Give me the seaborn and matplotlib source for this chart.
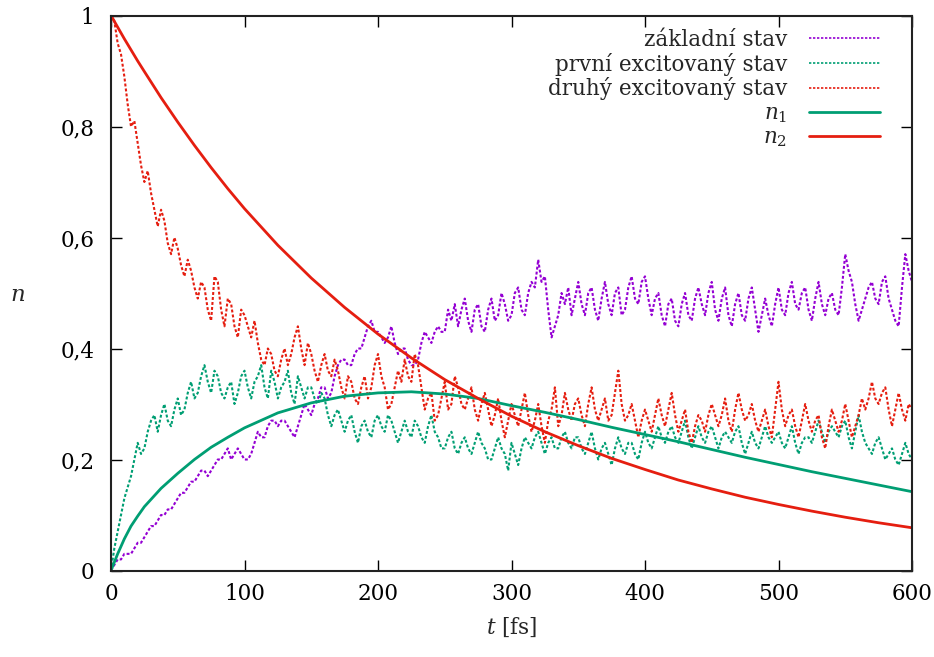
import numpy as np
import pandas as pd
import matplotlib
matplotlib.use("Agg")
import matplotlib.pyplot as plt
from matplotlib.lines import Line2D
import seaborn as sns

# ---------------- data ----------------
dt = 2.5  # fs between samples of the noisy series

zakladni = [
    0.00, 0.01, 0.02, 0.02, 0.03, 0.03, 0.03, 0.04, 0.05, 0.05,
    0.06, 0.07, 0.08, 0.08, 0.09, 0.10, 0.10, 0.11, 0.11, 0.12,
    0.13, 0.14, 0.14, 0.15, 0.16, 0.16, 0.17, 0.18, 0.18, 0.17,
    0.18, 0.19, 0.20, 0.20, 0.21, 0.22, 0.20, 0.21, 0.22, 0.21,
    0.20, 0.20, 0.21, 0.23, 0.25, 0.24, 0.24, 0.26, 0.27, 0.27,
    0.26, 0.27, 0.27, 0.26, 0.25, 0.24, 0.26, 0.28, 0.30, 0.29,
    0.28, 0.30, 0.31, 0.33, 0.33, 0.31, 0.32, 0.35, 0.37, 0.38,
    0.38, 0.37, 0.37, 0.39, 0.40, 0.40, 0.42, 0.44, 0.45, 0.43,
    0.43, 0.42, 0.41, 0.42, 0.44, 0.41, 0.39, 0.40, 0.40, 0.38,
    0.37, 0.37, 0.38, 0.41, 0.43, 0.42, 0.41, 0.43, 0.44, 0.43,
    0.43, 0.47, 0.45, 0.48, 0.44, 0.47, 0.49, 0.45, 0.43, 0.47,
    0.48, 0.44, 0.43, 0.47, 0.49, 0.45, 0.46, 0.50, 0.48, 0.45,
    0.46, 0.50, 0.51, 0.47, 0.46, 0.50, 0.52, 0.51, 0.56, 0.52,
    0.53, 0.47, 0.42, 0.44, 0.46, 0.50, 0.48, 0.51, 0.46, 0.49,
    0.52, 0.48, 0.46, 0.50, 0.51, 0.47, 0.45, 0.49, 0.52, 0.48,
    0.46, 0.50, 0.51, 0.46, 0.47, 0.51, 0.53, 0.49, 0.48, 0.52,
    0.53, 0.49, 0.46, 0.49, 0.50, 0.46, 0.44, 0.48, 0.49, 0.45,
    0.44, 0.48, 0.50, 0.46, 0.45, 0.49, 0.51, 0.48, 0.46, 0.50,
    0.52, 0.47, 0.45, 0.49, 0.51, 0.46, 0.44, 0.48, 0.50, 0.46,
    0.45, 0.49, 0.51, 0.47, 0.43, 0.46, 0.49, 0.46, 0.44, 0.48,
    0.51, 0.47, 0.46, 0.50, 0.52, 0.48, 0.47, 0.50, 0.51, 0.47,
    0.45, 0.49, 0.52, 0.48, 0.46, 0.49, 0.50, 0.47, 0.46, 0.51,
    0.57, 0.54, 0.52, 0.48, 0.45, 0.47, 0.49, 0.51, 0.52, 0.49,
    0.48, 0.52, 0.53, 0.49, 0.47, 0.45, 0.44, 0.51, 0.57, 0.54,
    0.52]

prvni = [
    0.00, 0.04, 0.07, 0.10, 0.13, 0.15, 0.17, 0.20, 0.23, 0.21,
    0.22, 0.25, 0.27, 0.28, 0.25, 0.28, 0.30, 0.27, 0.26, 0.29,
    0.31, 0.28, 0.29, 0.32, 0.34, 0.31, 0.32, 0.35, 0.37, 0.34,
    0.32, 0.36, 0.35, 0.32, 0.31, 0.33, 0.34, 0.30, 0.32, 0.35,
    0.36, 0.33, 0.31, 0.34, 0.35, 0.37, 0.33, 0.31, 0.36, 0.34,
    0.31, 0.33, 0.34, 0.36, 0.32, 0.30, 0.35, 0.33, 0.31, 0.33,
    0.33, 0.31, 0.30, 0.32, 0.31, 0.28, 0.26, 0.28, 0.29, 0.27,
    0.25, 0.27, 0.28, 0.25, 0.23, 0.26, 0.27, 0.25, 0.24, 0.27,
    0.28, 0.26, 0.25, 0.28, 0.27, 0.25, 0.23, 0.25, 0.27, 0.25,
    0.24, 0.27, 0.26, 0.24, 0.23, 0.26, 0.28, 0.25, 0.24, 0.22,
    0.22, 0.24, 0.25, 0.22, 0.21, 0.23, 0.24, 0.22, 0.21, 0.23,
    0.25, 0.23, 0.22, 0.20, 0.20, 0.22, 0.24, 0.22, 0.21, 0.18,
    0.23, 0.21, 0.19, 0.22, 0.24, 0.23, 0.22, 0.24, 0.25, 0.23,
    0.21, 0.23, 0.24, 0.22, 0.22, 0.24, 0.25, 0.23, 0.22, 0.24,
    0.24, 0.22, 0.21, 0.23, 0.25, 0.22, 0.20, 0.22, 0.23, 0.21,
    0.19, 0.22, 0.24, 0.22, 0.21, 0.23, 0.23, 0.21, 0.20, 0.23,
    0.25, 0.23, 0.22, 0.24, 0.26, 0.24, 0.23, 0.25, 0.26, 0.24,
    0.23, 0.25, 0.27, 0.24, 0.22, 0.24, 0.26, 0.24, 0.23, 0.25,
    0.26, 0.24, 0.22, 0.24, 0.25, 0.24, 0.23, 0.25, 0.26, 0.23,
    0.21, 0.23, 0.25, 0.23, 0.22, 0.24, 0.26, 0.24, 0.23, 0.24,
    0.25, 0.23, 0.22, 0.24, 0.26, 0.23, 0.21, 0.23, 0.24, 0.24,
    0.23, 0.25, 0.27, 0.25, 0.23, 0.25, 0.26, 0.25, 0.24, 0.26,
    0.27, 0.24, 0.22, 0.25, 0.28, 0.25, 0.23, 0.22, 0.21, 0.23,
    0.24, 0.22, 0.20, 0.21, 0.22, 0.20, 0.19, 0.21, 0.23, 0.21,
    0.20]

druhy = [
    1.00, 0.99, 0.95, 0.93, 0.89, 0.84, 0.80, 0.81, 0.77, 0.73,
    0.70, 0.72, 0.68, 0.65, 0.62, 0.65, 0.63, 0.59, 0.57, 0.60,
    0.58, 0.55, 0.53, 0.56, 0.54, 0.51, 0.49, 0.52, 0.51, 0.47,
    0.45, 0.53, 0.52, 0.47, 0.44, 0.49, 0.48, 0.44, 0.42, 0.47,
    0.46, 0.44, 0.42, 0.45, 0.41, 0.38, 0.37, 0.40, 0.39, 0.36,
    0.35, 0.38, 0.40, 0.37, 0.39, 0.42, 0.44, 0.40, 0.37, 0.41,
    0.39, 0.36, 0.34, 0.37, 0.39, 0.36, 0.35, 0.38, 0.36, 0.33,
    0.31, 0.35, 0.34, 0.31, 0.30, 0.33, 0.35, 0.31, 0.33, 0.37,
    0.39, 0.35, 0.33, 0.29, 0.30, 0.33, 0.36, 0.34, 0.38, 0.35,
    0.34, 0.39, 0.37, 0.33, 0.29, 0.31, 0.32, 0.27, 0.28, 0.31,
    0.34, 0.29, 0.30, 0.35, 0.33, 0.30, 0.29, 0.31, 0.33, 0.29,
    0.27, 0.30, 0.32, 0.29, 0.26, 0.28, 0.31, 0.27, 0.24, 0.27,
    0.30, 0.28, 0.26, 0.29, 0.32, 0.28, 0.25, 0.27, 0.30, 0.26,
    0.23, 0.27, 0.29, 0.33, 0.26, 0.28, 0.32, 0.29, 0.27, 0.30,
    0.31, 0.28, 0.26, 0.30, 0.33, 0.29, 0.27, 0.29, 0.31, 0.27,
    0.28, 0.32, 0.36, 0.30, 0.27, 0.28, 0.30, 0.27, 0.24, 0.27,
    0.29, 0.27, 0.25, 0.28, 0.31, 0.28, 0.26, 0.29, 0.32, 0.28,
    0.25, 0.27, 0.29, 0.25, 0.23, 0.26, 0.28, 0.27, 0.25, 0.28,
    0.30, 0.28, 0.26, 0.28, 0.31, 0.27, 0.25, 0.29, 0.32, 0.29,
    0.27, 0.28, 0.30, 0.27, 0.25, 0.27, 0.29, 0.26, 0.24, 0.29,
    0.34, 0.29, 0.26, 0.28, 0.29, 0.26, 0.24, 0.27, 0.30, 0.27,
    0.25, 0.27, 0.28, 0.24, 0.22, 0.26, 0.29, 0.27, 0.25, 0.27,
    0.30, 0.27, 0.24, 0.26, 0.28, 0.31, 0.29, 0.31, 0.34, 0.31,
    0.30, 0.32, 0.33, 0.29, 0.26, 0.29, 0.32, 0.29, 0.27, 0.30,
    0.29]

t_smooth = [0, 5, 10, 15, 20, 25, 37.5, 50, 62.5, 75, 87.5, 100, 125, 150,
            175, 200, 225, 250, 275, 300, 325, 350, 375, 400, 425, 450,
            475, 500, 525, 550, 575, 600]
n1 = [0.0, 0.030, 0.057, 0.080, 0.098, 0.115, 0.148, 0.175, 0.200, 0.222,
      0.240, 0.257, 0.284, 0.302, 0.314, 0.320, 0.322, 0.318, 0.310, 0.297,
      0.285, 0.272, 0.258, 0.245, 0.232, 0.218, 0.204, 0.191, 0.178, 0.166,
      0.154, 0.142]
n2 = [1.0, 0.979, 0.958, 0.938, 0.918, 0.899, 0.852, 0.808, 0.766, 0.726,
      0.688, 0.652, 0.586, 0.527, 0.474, 0.426, 0.383, 0.344, 0.310, 0.278,
      0.250, 0.225, 0.202, 0.182, 0.163, 0.147, 0.132, 0.119, 0.107, 0.096,
      0.086, 0.077]

x_ticks = [0, 100, 200, 300, 400, 500, 600]
y_ticks = [0, 0.2, 0.4, 0.6, 0.8, 1.0]
y_ticklabels = ["0", "0,2", "0,4", "0,6", "0,8", "1"]

labels = ["základní stav", "první excitovaný stav", "druhý excitovaný stav",
          r"$n_1$", r"$n_2$"]
colors = ["#9400d3", "#009e73", "#e51e10", "#009e73", "#e51e10"]

# ---------------- plot ----------------
sns.set_style("ticks")
plt.rcParams["font.family"] = ["DejaVu Serif"]
plt.rcParams["mathtext.fontset"] = "dejavuserif"
FS = 15.5

fig = plt.figure(figsize=(9.34, 6.57), dpi=100)
ax = fig.add_axes([111 / 934, 1 - 570.5 / 657, (912 - 111) / 934, (570.5 - 15.5) / 657])

dotted = (0, (1.4, 1.0))
noisy_lw = 1.5


def frame(values):
    return pd.DataFrame({"t": [dt * i for i in range(len(values))], "v": values})


for series, c in zip([zakladni, prvni, druhy], colors[:3]):
    sns.lineplot(data=frame(series), x="t", y="v", ax=ax, color=c, lw=noisy_lw,
                 linestyle=dotted, estimator=None, sort=False, legend=False)

smooth = pd.DataFrame({"t": t_smooth, "n1": n1, "n2": n2})
sns.lineplot(data=smooth, x="t", y="n1", ax=ax, color=colors[3], lw=2.0,
             estimator=None, legend=False)
sns.lineplot(data=smooth, x="t", y="n2", ax=ax, color=colors[4], lw=2.0,
             estimator=None, legend=False)

ax.set_xlim(0, 600)
ax.set_ylim(0, 1)
ax.set_xticks(x_ticks)
ax.set_xticklabels([str(v) for v in x_ticks])
ax.set_yticks(y_ticks)
ax.set_yticklabels(y_ticklabels)
ax.tick_params(direction="in", top=True, right=True, length=8, width=1,
               labelsize=FS, colors="black")
ax.tick_params(axis="y", pad=12)
ax.tick_params(axis="x", pad=9)
for s in ax.spines.values():
    s.set_visible(True)
    s.set_linewidth(1.5)
    s.set_color("#222222")

ax.set_xlabel(r"$t$ [fs]", fontsize=FS, labelpad=8)
ax.set_ylabel("")
fig.text(18 / 934, 1 - 295 / 657, r"$n$", fontsize=FS + 1, ha="center", va="center")

handles = [Line2D([], [], color=colors[0], lw=1.2, linestyle=dotted),
           Line2D([], [], color=colors[1], lw=1.2, linestyle=dotted),
           Line2D([], [], color=colors[2], lw=1.2, linestyle=dotted),
           Line2D([], [], color=colors[3], lw=2.0),
           Line2D([], [], color=colors[4], lw=2.0)]
leg = ax.legend(handles, labels, loc="upper right", frameon=False,
                markerfirst=False, fontsize=FS, handlelength=3.3,
                handletextpad=1.0, labelspacing=0.08, borderpad=0,
                borderaxespad=0,
                bbox_to_anchor=(880 / 934, 1 - 29 / 657),
                bbox_transform=fig.transFigure)
for txt in leg.get_texts():
    txt.set_ha("right")

fig.savefig("out.png", dpi=100)
